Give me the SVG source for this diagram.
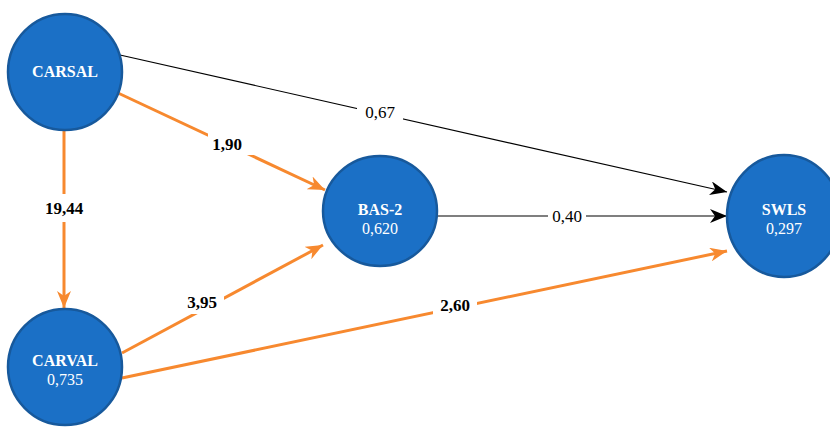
<svg xmlns="http://www.w3.org/2000/svg" width="830" height="428" viewBox="0 0 830 428">
<style>
.node{fill:#1b70c6;stroke:#17599c;stroke-width:2.5}
.nt{font-family:"Liberation Serif",serif;font-weight:bold;font-size:16px;fill:#fff;text-anchor:middle}
.nv{font-family:"Liberation Serif",serif;font-size:16px;fill:#fff;text-anchor:middle}
.or{stroke:#f7892f;stroke-width:3;fill:none}
.bk{stroke:#000;stroke-width:1.2;fill:none}
.lb{font-family:"Liberation Serif",serif;font-size:17px;fill:#000;text-anchor:middle;dominant-baseline:central}
.lbb{font-weight:bold}
.bg{fill:#fff}
</style>
<defs>
<marker id="ao" markerUnits="userSpaceOnUse" markerWidth="18" markerHeight="14" refX="17" refY="7" orient="auto">
<path d="M0,0 L17,7 L0,14 L5,7 z" fill="#f7892f"/>
</marker>
<marker id="ab" markerUnits="userSpaceOnUse" markerWidth="18" markerHeight="14" refX="17" refY="7" orient="auto">
<path d="M0,0 L17,7 L0,14 L5,7 z" fill="#000"/>
</marker>
</defs>
<rect width="830" height="428" fill="#fff"/>
<g id="connectors">
<line class="bk" x1="120" y1="55" x2="727" y2="192" marker-end="url(#ab)"/>
<line class="or" x1="118" y1="93" x2="325" y2="190" marker-end="url(#ao)"/>
<line class="or" x1="64" y1="130" x2="64" y2="308" marker-end="url(#ao)"/>
<line class="or" x1="122" y1="353" x2="323" y2="245" marker-end="url(#ao)"/>
<line class="or" x1="122" y1="378" x2="727" y2="251" marker-end="url(#ao)"/>
<line class="bk" x1="438" y1="216" x2="727" y2="216" marker-end="url(#ab)"/>
<rect class="bg" x="357" y="101" width="46" height="22"/>
<text class="lb" x="380" y="112">0,67</text>
<rect class="bg" x="208" y="133" width="46" height="22"/>
<text class="lb lbb" x="227" y="144">1,90</text>
<rect class="bg" x="38" y="194" width="52" height="28"/>
<text class="lb lbb" x="64" y="208">19,44</text>
<rect class="bg" x="180" y="290" width="44" height="24"/>
<text class="lb lbb" x="202" y="302">3,95</text>
<rect class="bg" x="433" y="293" width="44" height="24"/>
<text class="lb lbb" x="455" y="305">2,60</text>
<rect class="bg" x="548" y="206" width="38" height="20"/>
<text class="lb" x="567" y="216">0,40</text>
</g>
<g id="CARSAL">
<ellipse class="node" cx="65" cy="72" rx="57" ry="58"/>
<text class="nt" x="65" y="77">CARSAL</text>
</g>
<g id="CARVAL">
<ellipse class="node" cx="65" cy="367" rx="57" ry="58"/>
<text class="nt" x="65" y="366">CARVAL</text>
<text class="nv" x="65" y="385">0,735</text>
</g>
<g id="BAS-2">
<ellipse class="node" cx="380" cy="211" rx="57" ry="55"/>
<text class="nt" x="380" y="215">BAS-2</text>
<text class="nv" x="380" y="234">0,620</text>
</g>
<g id="SWLS">
<ellipse class="node" cx="784" cy="216" rx="57" ry="61"/>
<text class="nt" x="784" y="215">SWLS</text>
<text class="nv" x="784" y="234">0,297</text>
</g>
</svg>
